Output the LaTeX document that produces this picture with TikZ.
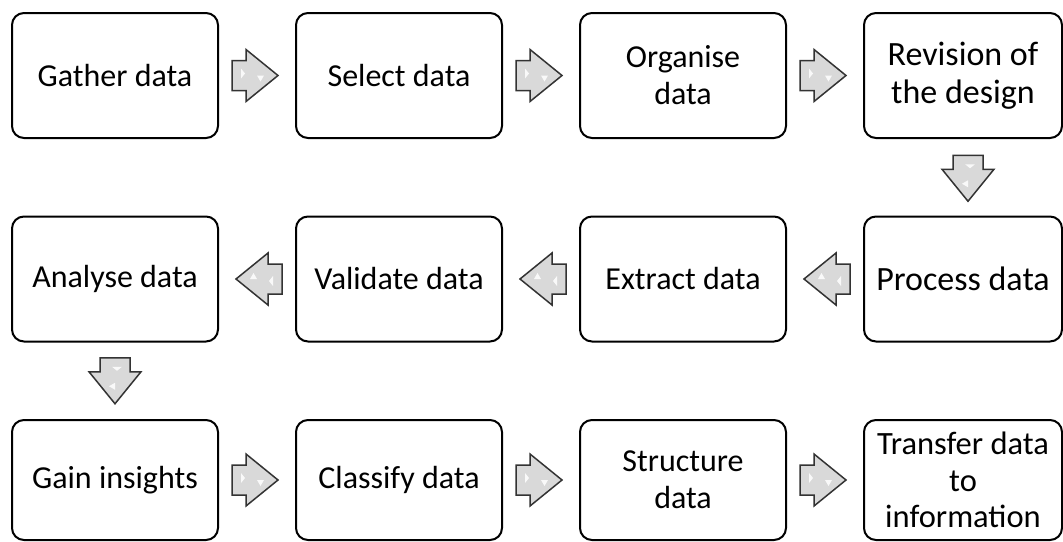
\documentclass[tikz,border=0pt]{standalone}
\usepackage{fontspec}
\setmainfont{Carlito}
\begin{document}
\begin{tikzpicture}[x=1pt,y=-1pt,
  stepbox/.style={draw=black,line width=2pt,rounded corners=12pt,minimum width=206pt,minimum height=125pt,inner sep=0pt,align=center,font=\fontsize{32}{37}\selectfont},
  bigtext/.style={font=\fontsize{34}{38}\selectfont},
  barrow/.style={draw=black!80,line width=1.5pt,line join=miter,fill=black!15},
  hl/.style={fill=white,opacity=0.85},
  blockarr/.pic={
    \draw[barrow] (-23,-15) -- (-9,-15) -- (-9,-26) -- (23,0) -- (-9,26) -- (-9,15) -- (-23,15) -- cycle;
    \fill[hl] (-14,-7) -- (-10,-2) -- (-14,3) -- cycle;
    \fill[hl] (2,0) -- (9,0) -- (5.5,6) -- cycle;
  }]
\useasboundingbox (0,0) rectangle (1063,541);
% row 1
\node[stepbox] (gather) at (115,75.5) {Gather data};
\node[stepbox] (select) at (399,75.5) {Select data};
\node[stepbox] (organise) at (683,75.5) {Organise\\data};
\node[stepbox,bigtext,minimum width=198pt] (revision) at (963,75.5) {Revision of\\the design};
% row 2
\node[stepbox] (analyse) at (115,279) {Analyse data};
\node[stepbox] (validate) at (399,279) {Validate data};
\node[stepbox] (extract) at (683,279) {Extract data};
\node[stepbox,bigtext,minimum width=198pt] (process) at (963,279) {Process data};
% row 3
\node[stepbox,minimum height=120pt] (gain) at (115,480) {Gain insights};
\node[stepbox,minimum height=120pt] (classify) at (399,480) {Classify data};
\node[stepbox,minimum height=120pt] (structure) at (683,480) {Structure\\data};
\node[stepbox,minimum height=120pt,minimum width=198pt,font=\fontsize{32.5}{36.5}\selectfont] (transfer) at (963,480) {Transfer data\\to\\information};
% arrow positions
\path (gather.east) -- (select.west) coordinate[midway] (a1);
\path (select.east) -- (organise.west) coordinate[midway] (a2);
\path (organise.east) -- (revision.west) coordinate[midway] (a3);
\path (revision.south) -- (process.north) coordinate[midway] (a4);
\path (process.west) -- (extract.east) coordinate[midway] (a5);
\path (extract.west) -- (validate.east) coordinate[midway] (a6);
\path (validate.west) -- (analyse.east) coordinate[midway] (a7);
\path (analyse.south) -- (gain.north) coordinate[midway] (a8);
\path (gain.east) -- (classify.west) coordinate[midway] (a9);
\path (classify.east) -- (structure.west) coordinate[midway] (a10);
\path (structure.east) -- (transfer.west) coordinate[midway] (a11);
\pic at ([xshift=-2pt]a1) {blockarr};
\pic at ([xshift=-2pt]a2) {blockarr};
\pic at ([xshift=-2pt]a3) {blockarr};
\pic[rotate=-90] at ([xshift=5pt,yshift=-1pt]a4) {blockarr};
\pic[rotate=180] at ([xshift=2pt]a5) {blockarr};
\pic[rotate=180] at ([xshift=2pt]a6) {blockarr};
\pic[rotate=180] at ([xshift=2pt]a7) {blockarr};
\pic[rotate=-90] at (a8) {blockarr};
\pic at ([xshift=-2pt]a9) {blockarr};
\pic at ([xshift=-2pt]a10) {blockarr};
\pic at ([xshift=-2pt]a11) {blockarr};
\end{tikzpicture}
\end{document}
